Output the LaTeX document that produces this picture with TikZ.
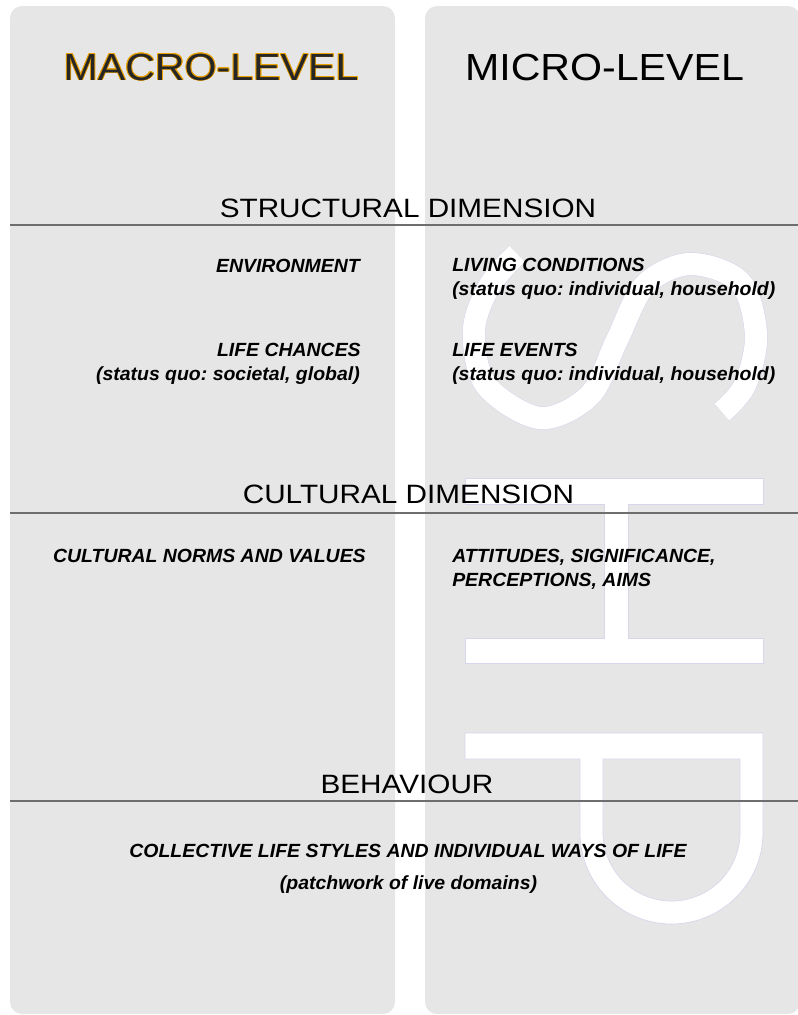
\documentclass[tikz,border=0pt]{standalone}
\usepackage{fontspec}
\setmainfont{Liberation Sans}
\newfontfamily\titlefont[FakeStretch=1.09]{Liberation Sans}
\newfontfamily\headfont[FakeStretch=1.12]{Liberation Sans}
\newfontfamily\itemfont[FakeStretch=1.02]{Liberation Sans}
\definecolor{panelgray}{RGB}{230,230,230}
\definecolor{letteredge}{RGB}{214,214,236}
\definecolor{rulegray}{RGB}{110,110,110}
\definecolor{macroorange}{RGB}{232,160,0}
\frenchspacing
\begin{document}
\begin{tikzpicture}[x=0.75pt,y=-0.75pt,
  panel/.style={fill=panelgray, draw=none, rounded corners=9pt},
  letter/.style={fill=white, draw=letteredge, line width=0.5pt, even odd rule},
  rulestyle/.style={draw=rulegray, line width=1.5pt},
  title/.style={inner sep=0pt, font=\titlefont\fontsize{28.3pt}{34pt}\selectfont},
  heading/.style={inner sep=0pt, font=\headfont\fontsize{19.9pt}{24pt}\selectfont},
  item/.style={inner sep=0pt, font=\itemfont\bfseries\itshape\fontsize{14.3pt}{17pt}\selectfont}]
\useasboundingbox (0,0) rectangle (798,1015);
% panels
\path[panel] (10,6) rectangle (395,1014);
\path[panel] (425,6) rectangle (800,1014);
% S
\draw[letteredge, line width=17.4pt] plot[smooth, tension=0.55] coordinates {(517,254) (490,285) (474,330) (486,385) (540,418) (590,395) (617,340) (645,285) (690,264) (740,282) (756,335) (745,385) (722,412)};
\draw[white, line width=16.6pt] plot[smooth, tension=0.55] coordinates {(517,254) (490,285) (474,330) (486,385) (540,418) (590,395) (617,340) (645,285) (690,264) (740,282) (756,335) (745,385) (722,412)};
% H (rotated)
\path[letter] (465,478) -- (763,478) -- (763,504) -- (628,504) -- (628,638) -- (763,638) -- (763,663) -- (465,663) -- (465,638) -- (604,638) -- (604,504) -- (465,504) -- cycle;
% P (rotated)
\path[letter] (465,733) -- (763,733) -- (763,832.5) arc[start angle=0, end angle=180, radius=91.5] -- (580,759) -- (465,759) -- cycle
  (603,759) -- (740,759) -- (740,832.5) arc[start angle=0, end angle=180, radius=68.5] -- cycle;
% rules
\draw[rulestyle] (10,224.5) -- (798,224.5);
\draw[rulestyle] (10,512.5) -- (798,512.5);
\draw[rulestyle] (10,800.5) -- (798,800.5);
% titles
\foreach \a in {0,30,...,330}
  \node[title, anchor=base, text=macroorange] (macroglow\a) at ([shift={(\a:0.9)}]211,80) {MACRO-LEVEL};
\node[title, anchor=base, text=black!85] (macro) at (211,80) {MACRO-LEVEL};
\node[title, anchor=base] (micro) at (604.5,80) {MICRO-LEVEL};
% headings
\node[heading, anchor=base] (structural) at (408,217) {STRUCTURAL DIMENSION};
\node[heading, anchor=base] (cultural) at (408.5,503) {CULTURAL DIMENSION};
\node[heading, anchor=base] (behaviour) at (407,793) {BEHAVIOUR};
% items
\node[item, anchor=base east] (env) at (360,272) {ENVIRONMENT};
\node[item, anchor=base east] (chances) at (361,356) {LIFE CHANCES};
\node[item, anchor=base east] (chancesq) at (360,380) {(status quo: societal, global)};
\node[item, anchor=base west] (living) at (452,271) {LIVING CONDITIONS};
\node[item, anchor=base west] (livingq) at (452,295) {(status quo: individual, household)};
\node[item, anchor=base west] (events) at (452,356) {LIFE EVENTS};
\node[item, anchor=base west] (eventsq) at (452,380) {(status quo: individual, household)};
\node[item, anchor=base east] (norms) at (366,562) {CULTURAL NORMS AND VALUES};
\node[item, anchor=base west] (attitudes) at (452,562) {ATTITUDES, SIGNIFICANCE,};
\node[item, anchor=base west] (percept) at (452,586) {PERCEPTIONS, AIMS};
\node[item, anchor=base] (collective) at (408,857) {COLLECTIVE LIFE STYLES AND INDIVIDUAL WAYS OF LIFE};
\node[item, anchor=base] (patch) at (408.5,889) {(patchwork of live domains)};
\end{tikzpicture}
\end{document}
